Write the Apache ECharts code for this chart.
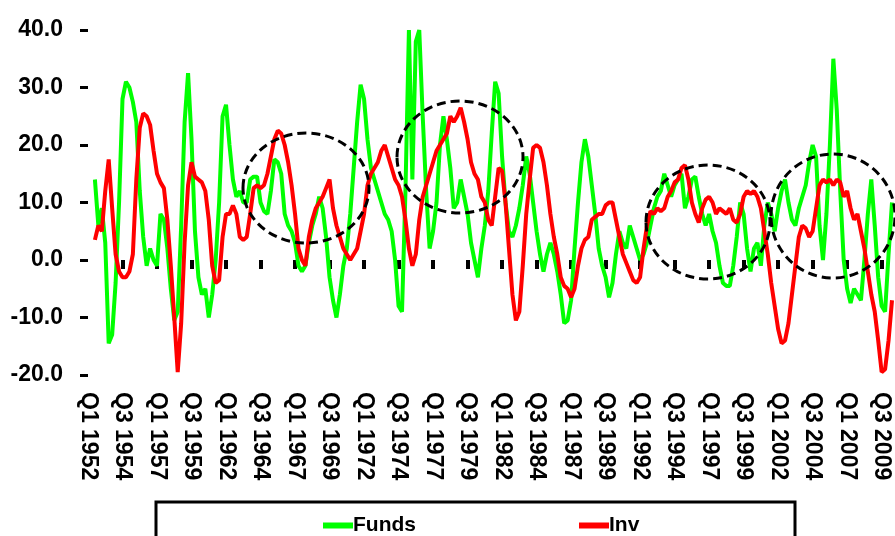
<!DOCTYPE html>
<html><head><meta charset="utf-8">
<script src="https://cdn.jsdelivr.net/npm/echarts@6/dist/echarts.min.js"></script>
<style>html,body{margin:0;padding:0;background:#fff}#c{width:895px;height:536px}</style>
</head><body><div id="c"></div>
<script>
// ---- data ----
const startYear = 1952;
const nQuarters = 234; // Q1 1952 .. Q2 2010
const categories = [];
for (let k = 0; k < nQuarters; k++) categories.push('Q' + (k % 4 + 1) + ' ' + (startYear + Math.floor(k / 4)));

const seriesNames = ['Funds', 'Inv'];

const funds = [null,null,
14,6,9,3,-14.5,-13,-4,10,28,31,30,27.5,24,12,4,-1,2,0,-1,8,7,2,-5,-10.5,-9,6,24,32.5,21,
5,-3,-6,-5,-10,-6,0,10,25,27,20,14,11,12,10,10,14,14.5,14.5,10,8.5,8,12,17.5,17,15,8,6,5,3,
-1,-2,-1,3,6,8,11,9,4,-3,-7,-10,-6,-1,2,8,16,24,30.5,28,21,16,14,12,10,8,7,5,0,-8,
-9,12,40,14,38,40,25,12,2,5,10,20,25,21,16,9,10,14,11,8,3,0,-3,2,6,12,22,31,29,18,
10,5,4,6,9,13,18,15,10,5,1,-2,1,3,1,-2,-6,-11,-10.5,-7,2,10,17,21,18,13,8,2,-1,-3,
-6.5,-4,1,5,3,2,6,4,2,0,1,3,6,9,11,12,15,13,11,13,14,15,9,11,14,14.5,11,8,6,8,
5,3,-1,-4,-4.5,-4.5,-1,4,10,8,2,-2,2,3,-1,6,10,8,5,9,12,14,10,7,6,9,11,13,17,20,
18,6,0,8,20,35,26,12,0,-5,-7.5,-5,-6,-7,0,8,14,6,-3,-8,-9,1,10];

const inv = [null,null,
3.5,6,5,12,17.5,9,1,-2,-3,-3,-2,1,14,23,25.5,25,23.5,19,15,13.5,12.5,7,-1,-10,-19.5,-11,3,13,17,
14.5,14,13.5,12,7,-1,-4,-3.5,4,8,8,9.5,8,4,3.5,4,8,12.5,13,12.5,13,15,18,21,22.5,22,20,17,13,8,
2,0,-1,4,7,9,10,11,12.5,14,9,6,4,2,1,0,1,2,5,8,13,15,16,17,19,20,18,16,14,13,
11,7,2,-1,1,7,11,13,15,17,19,20,21,22,25,24,25,26.5,24,21,17,15,14,11,10,7,6,11,16,15.5,
10,2,-6,-10.5,-9,-1,8,14,19.5,20,19.5,17,13,8,4,1,-3,-4.5,-5,-6.5,-5,-1,2,3.5,4,7,7.5,8,8,9.5,
10,10,7,4,1,-0.5,-2,-3.5,-4,-3,2,6,8.5,8,9,8.5,9,11,12,13.5,14,16,16.5,14,10,8,6.5,9,10.5,11,
10,8,9,8.5,8,9,7,6.5,8,11,12,11.5,12,11,9,5,1,-4,-8,-12,-14.5,-14,-11,-6,-1,4,6,5.5,4,5,
9,13,14,13.5,14,13,14,13.5,11,12,9,7,8,5,2,-2,-6,-9,-14,-19.5,-19,-14,-7];

const yMin = -20, yMax = 40, yStep = 10;
const tickEvery = 10; // quarters between labelled ticks

// annotation ellipses (pixel centre and radii)
const ellipses = [
  {cx: 306, cy: 188, rx: 63, ry: 55},
  {cx: 460, cy: 157, rx: 63, ry: 56},
  {cx: 708, cy: 222, rx: 62, ry: 57},
  {cx: 833, cy: 216, rx: 62, ry: 62}
];

// ---- chart ----
const chart = echarts.init(document.getElementById('c'), null, {renderer: 'canvas'});
const font = 'Liberation Sans, Arial, sans-serif';

const graphics = ellipses.map(e => ({
  type: 'ellipse', z: 100, silent: true,
  shape: {cx: e.cx, cy: e.cy, rx: e.rx, ry: e.ry},
  style: {fill: null, stroke: '#000', lineWidth: 3, lineDash: [9, 5]}
}));
graphics.push({
  type: 'rect', z: 1, silent: true,
  shape: {x: 156, y: 502, width: 639, height: 60},
  style: {fill: null, stroke: '#000', lineWidth: 3}
});

chart.setOption({
  animation: false,
  backgroundColor: '#fff',
  grid: {left: 88, right: 3, top: 30, bottom: 161, containLabel: false},
  legend: {
    data: seriesNames,
    left: 318, top: 510,
    itemWidth: 30, itemHeight: 6, itemGap: 163,
    icon: 'rect',
    textStyle: {fontFamily: font, fontWeight: 'bold', fontSize: 21, color: '#000', padding: [0, 0, 0, -5]}
  },
  xAxis: [
    {
      type: 'category', data: categories, boundaryGap: false,
      axisLine: {show: true, onZero: true, lineStyle: {opacity: 0}},
      axisTick: {show: true, interval: (idx) => idx > 0 && idx % tickEvery === 0, length: 9, lineStyle: {color: '#000', width: 4}},
      axisLabel: {show: false},
      splitLine: {show: false}
    },
    {
      type: 'category', data: categories, boundaryGap: false, position: 'bottom',
      axisLine: {show: false, onZero: false},
      axisTick: {show: false},
      axisLabel: {
        interval: tickEvery - 1, rotate: -90, margin: 17,
        fontFamily: font, fontWeight: 'bold', fontSize: 23, color: '#000'
      },
      splitLine: {show: false}
    }
  ],
  yAxis: {
    type: 'value', min: yMin, max: yMax, interval: yStep,
    axisLine: {show: false},
    axisTick: {show: true, length: 8, lineStyle: {color: '#000', width: 3}},
    axisLabel: {
      margin: 25, formatter: v => v.toFixed(1),
      fontFamily: font, fontWeight: 'bold', fontSize: 23, color: '#000'
    },
    splitLine: {show: false}
  },
  series: [
    {name: seriesNames[0], type: 'line', data: funds, xAxisIndex: 0, showSymbol: false,
     lineStyle: {color: '#00ff00', width: 4}, itemStyle: {color: '#00ff00'}},
    {name: seriesNames[1], type: 'line', data: inv, xAxisIndex: 0, showSymbol: false,
     lineStyle: {color: '#ff0000', width: 4}, itemStyle: {color: '#ff0000'}}
  ],
  graphic: graphics
});
</script>
</body></html>
